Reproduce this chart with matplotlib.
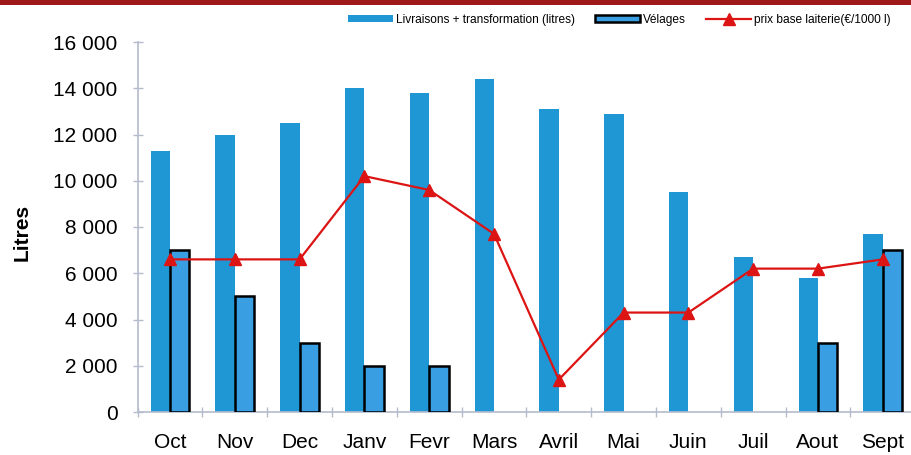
import numpy as np
import matplotlib.pyplot as plt
from matplotlib.patches import Rectangle
from matplotlib.ticker import FuncFormatter, FixedLocator

plt.rcParams['font.family'] = ['Liberation Sans', 'DejaVu Sans']

# -----------------------------
# DATA
# -----------------------------
months = ["Oct", "Nov", "Dec", "Janv", "Fevr", "Mars", "Avril", "Mai", "Juin", "Juil", "Aout", "Sept"]
livraisons = [11300, 12000, 12500, 14000, 13800, 14400, 13100, 12900, 9500, 6700, 5800, 7700]
velages = [7000, 5000, 3000, 2000, 2000, 0, 0, 0, 0, 0, 3000, 7000]
prix_base = [6600, 6600, 6600, 10200, 9600, 7700, 1400, 4300, 4300, 6200, 6200, 6600]

LIV_COLOR = "#1f97d4"
VEL_COLOR = "#3a9fe2"
LINE_COLOR = "#dc1414"
AXIS_COLOR = "#b4bccc"

BAR_W = 0.3

fig = plt.figure(figsize=(9.12, 4.55), dpi=100)
ax = fig.add_axes([137.6 / 912, 1 - 412 / 455, 777.6 / 912, 370 / 455])

x = np.arange(len(months))

h_liv = ax.bar(x - BAR_W / 2, livraisons, width=BAR_W, color=LIV_COLOR, linewidth=0,
               label="Livraisons + transformation (litres)", zorder=2)
vel_x = [xi for xi, v in zip(x, velages) if v > 0]
vel_v = [v for v in velages if v > 0]
h_vel = ax.bar(np.array(vel_x) + BAR_W / 2, vel_v, width=BAR_W, color=VEL_COLOR,
               edgecolor="black", linewidth=1.8, label="Vélages", zorder=3)
h_prix, = ax.plot(x, prix_base, color=LINE_COLOR, linewidth=1.6, marker="^", markersize=8,
                  label="prix base laiterie(€/1000 l)", zorder=4)

ax.set_xlim(-0.5, len(months) - 0.5)
ax.set_ylim(0, 16000)

ax.set_yticks(np.arange(0, 16001, 2000))
ax.yaxis.set_major_formatter(FuncFormatter(lambda v, p: f"{int(v):,}".replace(",", " ")))
ax.set_xticks(x)
ax.set_xticklabels(months)
ax.xaxis.set_minor_locator(FixedLocator(np.arange(-0.5, len(months), 1.0)))

ax.tick_params(axis="y", which="major", direction="inout", length=7, width=1,
               color=AXIS_COLOR, labelsize=15, pad=11)
ax.tick_params(axis="x", which="major", length=0, labelsize=15, pad=15)
ax.tick_params(axis="x", which="minor", direction="inout", length=7, width=1, color=AXIS_COLOR)

for side in ["top", "right"]:
    ax.spines[side].set_visible(False)
for side in ["left", "bottom"]:
    ax.spines[side].set_color(AXIS_COLOR)
    ax.spines[side].set_linewidth(1.2)

fig.text(22 / 912, 1 - 232 / 455, "Litres", rotation=90, fontsize=15, fontweight="bold",
         ha="center", va="center")

# dark red strip along the top edge
fig.patches.append(Rectangle((0, 1 - 5 / 455), 1, 5 / 455, transform=fig.transFigure,
                             facecolor="#9e1a1a", edgecolor="none", zorder=10))

fig.legend(handles=[h_liv, h_vel, h_prix], loc="center left",
           bbox_to_anchor=(348 / 912, 1 - 20 / 455), ncol=3, frameon=False,
           fontsize=8.6, handlelength=3.8, handleheight=0.5, handletextpad=0.2,
           columnspacing=1.7, borderaxespad=0, borderpad=0)

fig.savefig("out.png", dpi=100)
